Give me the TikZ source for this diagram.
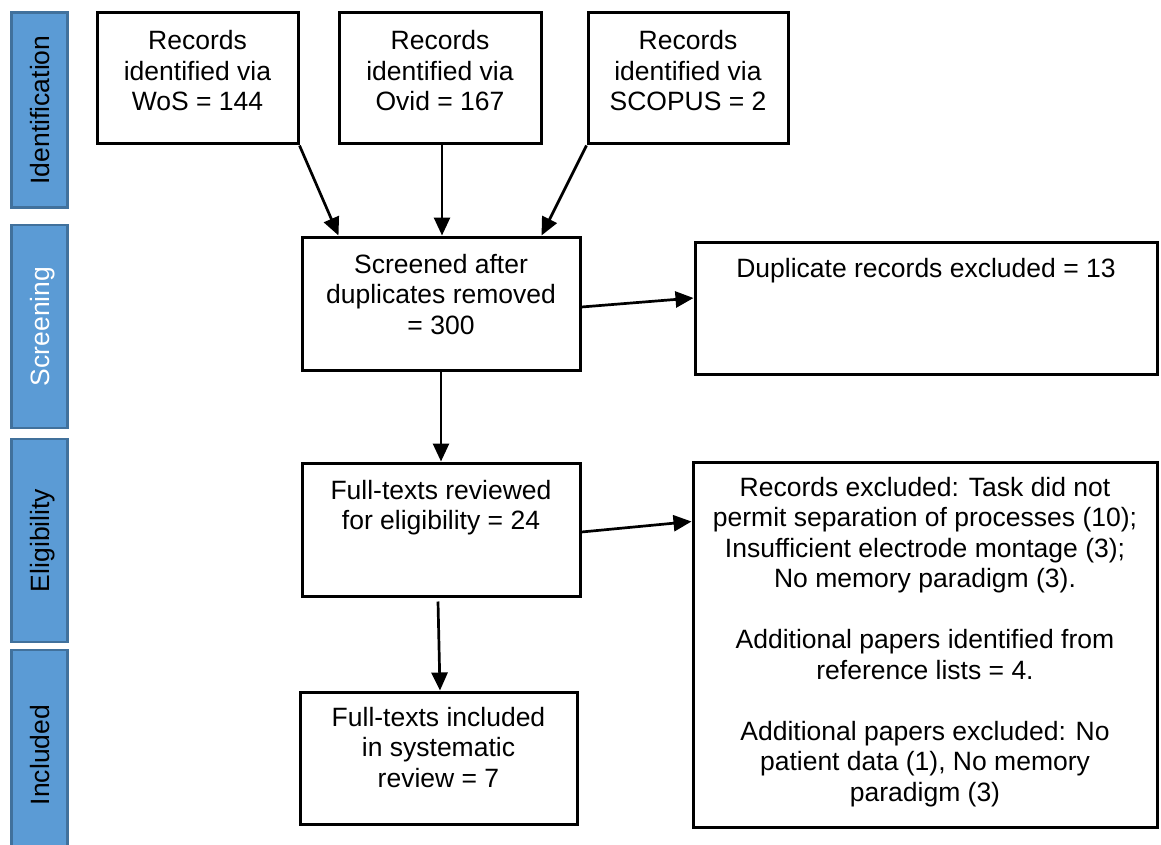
\documentclass[tikz,border=0pt]{standalone}
\usepackage{fontspec}
\setmainfont{Liberation Sans}
\usetikzlibrary{arrows.meta}
\definecolor{phasefill}{HTML}{5B9BD5}
\definecolor{phasedraw}{HTML}{41719C}
\begin{document}
\begin{tikzpicture}[x=1pt,y=-1pt,
  box/.style={draw=black, line width=3pt, inner sep=0pt},
  txt/.style={align=center, inner sep=0pt, anchor=north, font=\fontsize{26.5}{30.5}\selectfont},
  arr/.style={line width=2.7pt, -{Triangle[length=18pt,width=16pt]}},
  phase/.style={draw=phasedraw, fill=phasefill, line width=2.2pt, rotate=90, inner sep=0pt,
     font=\fontsize{26.5}{30.5}\selectfont, text height=19pt, text depth=0pt, minimum height=56pt}]
\fill[white] (0,0) rectangle (1161,845);
\useasboundingbox (0,0) rectangle (1161,845);

% phase bars
\begin{scope}
\clip (0,0) rectangle (1161,845);
\node[phase, minimum width=195pt] (pid) at (39.5,110) {Identification};
\node[phase, minimum width=203pt, text=white] (pscr) at (39.5,326.5) {Screening};
\node[phase, minimum width=203pt] (pelig) at (39.5,540.5) {Eligibility};
\node[phase, minimum width=210pt] (pinc) at (39.5,755) {Included};
\end{scope}

% boxes
\node[box, minimum width=201pt, minimum height=131pt] (wos) at (197.5,78.5) {};
\node[box, minimum width=202pt, minimum height=131pt] (ovid) at (440,78.5) {};
\node[box, minimum width=200pt, minimum height=131pt] (scopus) at (688,78.5) {};
\node[box, minimum width=278pt, minimum height=133pt] (scr) at (441,303.5) {};
\node[box, minimum width=462pt, minimum height=132pt] (dup) at (926,308) {};
\node[box, minimum width=278pt, minimum height=133pt] (ft) at (441,529.5) {};
\node[box, minimum width=464pt, minimum height=365pt] (rex) at (925,644.5) {};
\node[box, minimum width=277pt, minimum height=132pt] (inc) at (438.5,758) {};

% texts
\node[txt] (wost) at ([yshift=-16.5pt]wos.north) {\strut Records\\identified via\\WoS = 144};
\node[txt] (ovidt) at ([yshift=-16.5pt]ovid.north) {\strut Records\\identified via\\Ovid = 167};
\node[txt] (scopust) at ([yshift=-16.5pt]scopus.north) {\strut Records\\identified via\\SCOPUS = 2};
\node[txt] (scrt) at ([yshift=-16pt]scr.north) {\strut Screened after\\duplicates removed\\= 300};
\node[txt] (dupt) at ([yshift=-15pt]dup.north) {\strut Duplicate records excluded = 13};
\node[txt] (ftt) at ([yshift=-16pt]ft.north) {\strut Full-texts reviewed\\for eligibility = 24};
\node[txt] (rext) at ([yshift=-14pt]rex.north) {\strut Records excluded: Task did not\\permit separation of processes (10);\\Insufficient electrode montage (3);\\No memory paradigm (3).\\[30.5pt]Additional papers identified from\\reference lists = 4.\\[30.5pt]Additional papers excluded: No\\patient data (1), No memory\\paradigm (3)};
\node[txt] (inct) at ([yshift=-14pt]inc.north) {\strut Full-texts included\\in systematic\\review = 7};

% arrows
\draw[arr] (wos.south east) -- ([xshift=38pt]scr.north west);
\draw[arr] ([xshift=2pt]ovid.south) -- ([xshift=2pt]ovid.south |- scr.north);
\draw[arr] (scopus.south west) -- ([xshift=-40pt]scr.north east);
\draw[arr] ([yshift=-3.5pt]scr.east) -- ([yshift=10pt]dup.west);
\draw[arr] (scr.south) -- (ft.north);
\draw[arr] ([yshift=-2.5pt]ft.east) -- ([yshift=-61pt]rex.north west);
\draw[arr] ([xshift=-3pt,yshift=-4pt]ft.south) -- ([xshift=1.5pt]inc.north);
\end{tikzpicture}
\end{document}
